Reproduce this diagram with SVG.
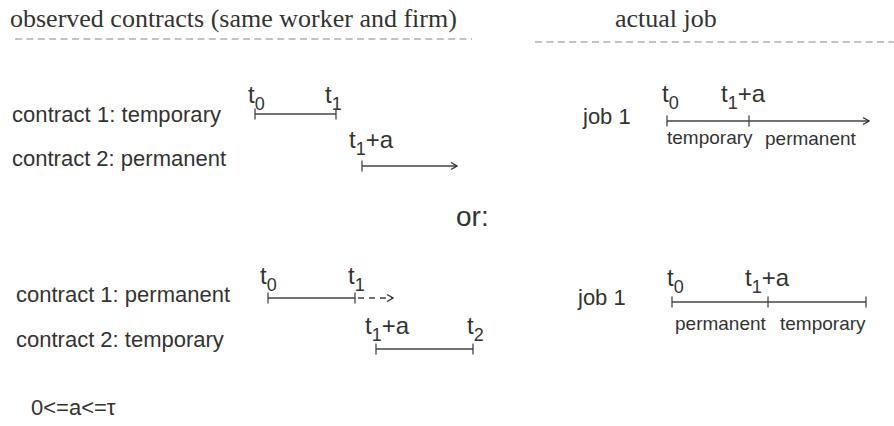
<svg xmlns="http://www.w3.org/2000/svg" width="894" height="426" viewBox="0 0 894 426">
<defs>
<marker id="chev" viewBox="0 0 10 10" refX="9" refY="5" markerWidth="10" markerHeight="10" markerUnits="userSpaceOnUse" orient="auto">
<path d="M3,1.5 L9,5 L3,8.5" fill="none" stroke="#333" stroke-width="1.4"/>
</marker>
</defs>
<style>
.serif{font-family:"Liberation Serif","Times New Roman",serif;font-size:26px;fill:#333}
.lab{font-family:"Liberation Sans",Arial,sans-serif;font-size:22px;fill:#333}
.small{font-family:"Liberation Sans",Arial,sans-serif;font-size:19px;fill:#333}
.t{font-family:"Liberation Sans",Arial,sans-serif;font-size:24px;fill:#333}
.sub{font-size:18px}
.hd{stroke:#888;stroke-width:1.2;stroke-dasharray:7 4.4;fill:none}
.ln{stroke:#444;stroke-width:1.3;fill:none}
.dash{stroke:#444;stroke-width:1.3;fill:none;stroke-dasharray:6 5}
</style>
<rect width="894" height="426" fill="#fff"/>
<g id="headers">
<text class="serif" x="10" y="27">observed contracts (same worker and firm)</text>
<line class="hd" x1="15" y1="39" x2="472" y2="39"/>
<text class="serif" x="615" y="27">actual job</text>
<line class="hd" x1="535" y1="42" x2="894" y2="42"/>
</g>
<g id="labels">
<text class="lab" x="12" y="122" textLength="209">contract 1: temporary</text>
<text class="lab" x="12" y="166">contract 2: permanent</text>
<text class="lab" x="583" y="124">job 1</text>
<text class="lab" x="456" y="226" style="font-size:28px">or:</text>
<text class="lab" x="16" y="302">contract 1: permanent</text>
<text class="lab" x="16" y="347">contract 2: temporary</text>
<text class="lab" x="578" y="305">job 1</text>
<text class="lab" x="31" y="415" style="font-size:22px">0&lt;=a&lt;=τ</text>
</g>
<g id="timeline1">
<text class="t" x="248" y="103">t<tspan class="sub" dy="7">0</tspan></text>
<text class="t" x="325" y="103">t<tspan class="sub" dy="7">1</tspan></text>
<line class="ln" x1="255" y1="114" x2="336" y2="114"/>
<line class="ln" x1="255" y1="108.5" x2="255" y2="119.5"/>
<line class="ln" x1="336" y1="108.5" x2="336" y2="119.5"/>
</g>
<g id="timeline2">
<text class="t" x="349" y="148">t<tspan class="sub" dy="7">1</tspan><tspan dy="-7">+a</tspan></text>
<line class="ln" x1="362" y1="166" x2="457" y2="166" marker-end="url(#chev)"/>
<line class="ln" x1="362" y1="160.5" x2="362" y2="171.5"/>
</g>
<g id="job1a">
<text class="t" x="662" y="102">t<tspan class="sub" dy="7">0</tspan></text>
<text class="t" x="721" y="102">t<tspan class="sub" dy="7">1</tspan><tspan dy="-7">+a</tspan></text>
<line class="ln" x1="667" y1="121" x2="869" y2="121" marker-end="url(#chev)"/>
<line class="ln" x1="667" y1="115.5" x2="667" y2="126.5"/>
<line class="ln" x1="749" y1="115.5" x2="749" y2="126.5"/>
<text class="small" x="667" y="144">temporary</text>
<text class="small" x="765" y="145">permanent</text>
</g>
<g id="timeline3">
<text class="t" x="260" y="284">t<tspan class="sub" dy="7">0</tspan></text>
<text class="t" x="348" y="284">t<tspan class="sub" dy="7">1</tspan></text>
<line class="ln" x1="268" y1="298" x2="355" y2="298"/>
<line class="ln" x1="268" y1="292.5" x2="268" y2="303.5"/>
<line class="ln" x1="355" y1="292.5" x2="355" y2="303.5"/>
<line class="dash" x1="358" y1="298" x2="393" y2="298" marker-end="url(#chev)"/>
</g>
<g id="timeline4">
<text class="t" x="365" y="334">t<tspan class="sub" dy="7">1</tspan><tspan dy="-7">+a</tspan></text>
<text class="t" x="467" y="334">t<tspan class="sub" dy="7">2</tspan></text>
<line class="ln" x1="376" y1="349" x2="473" y2="349"/>
<line class="ln" x1="376" y1="343.5" x2="376" y2="354.5"/>
<line class="ln" x1="473" y1="343.5" x2="473" y2="354.5"/>
</g>
<g id="job1b">
<text class="t" x="667" y="286">t<tspan class="sub" dy="7">0</tspan></text>
<text class="t" x="745" y="286">t<tspan class="sub" dy="7">1</tspan><tspan dy="-7">+a</tspan></text>
<line class="ln" x1="672" y1="302" x2="866" y2="302"/>
<line class="ln" x1="672" y1="296.5" x2="672" y2="307.5"/>
<line class="ln" x1="768" y1="296.5" x2="768" y2="307.5"/>
<line class="ln" x1="866" y1="296.5" x2="866" y2="307.5"/>
<text class="small" x="675" y="330">permanent</text>
<text class="small" x="780" y="330">temporary</text>
</g>
</svg>
